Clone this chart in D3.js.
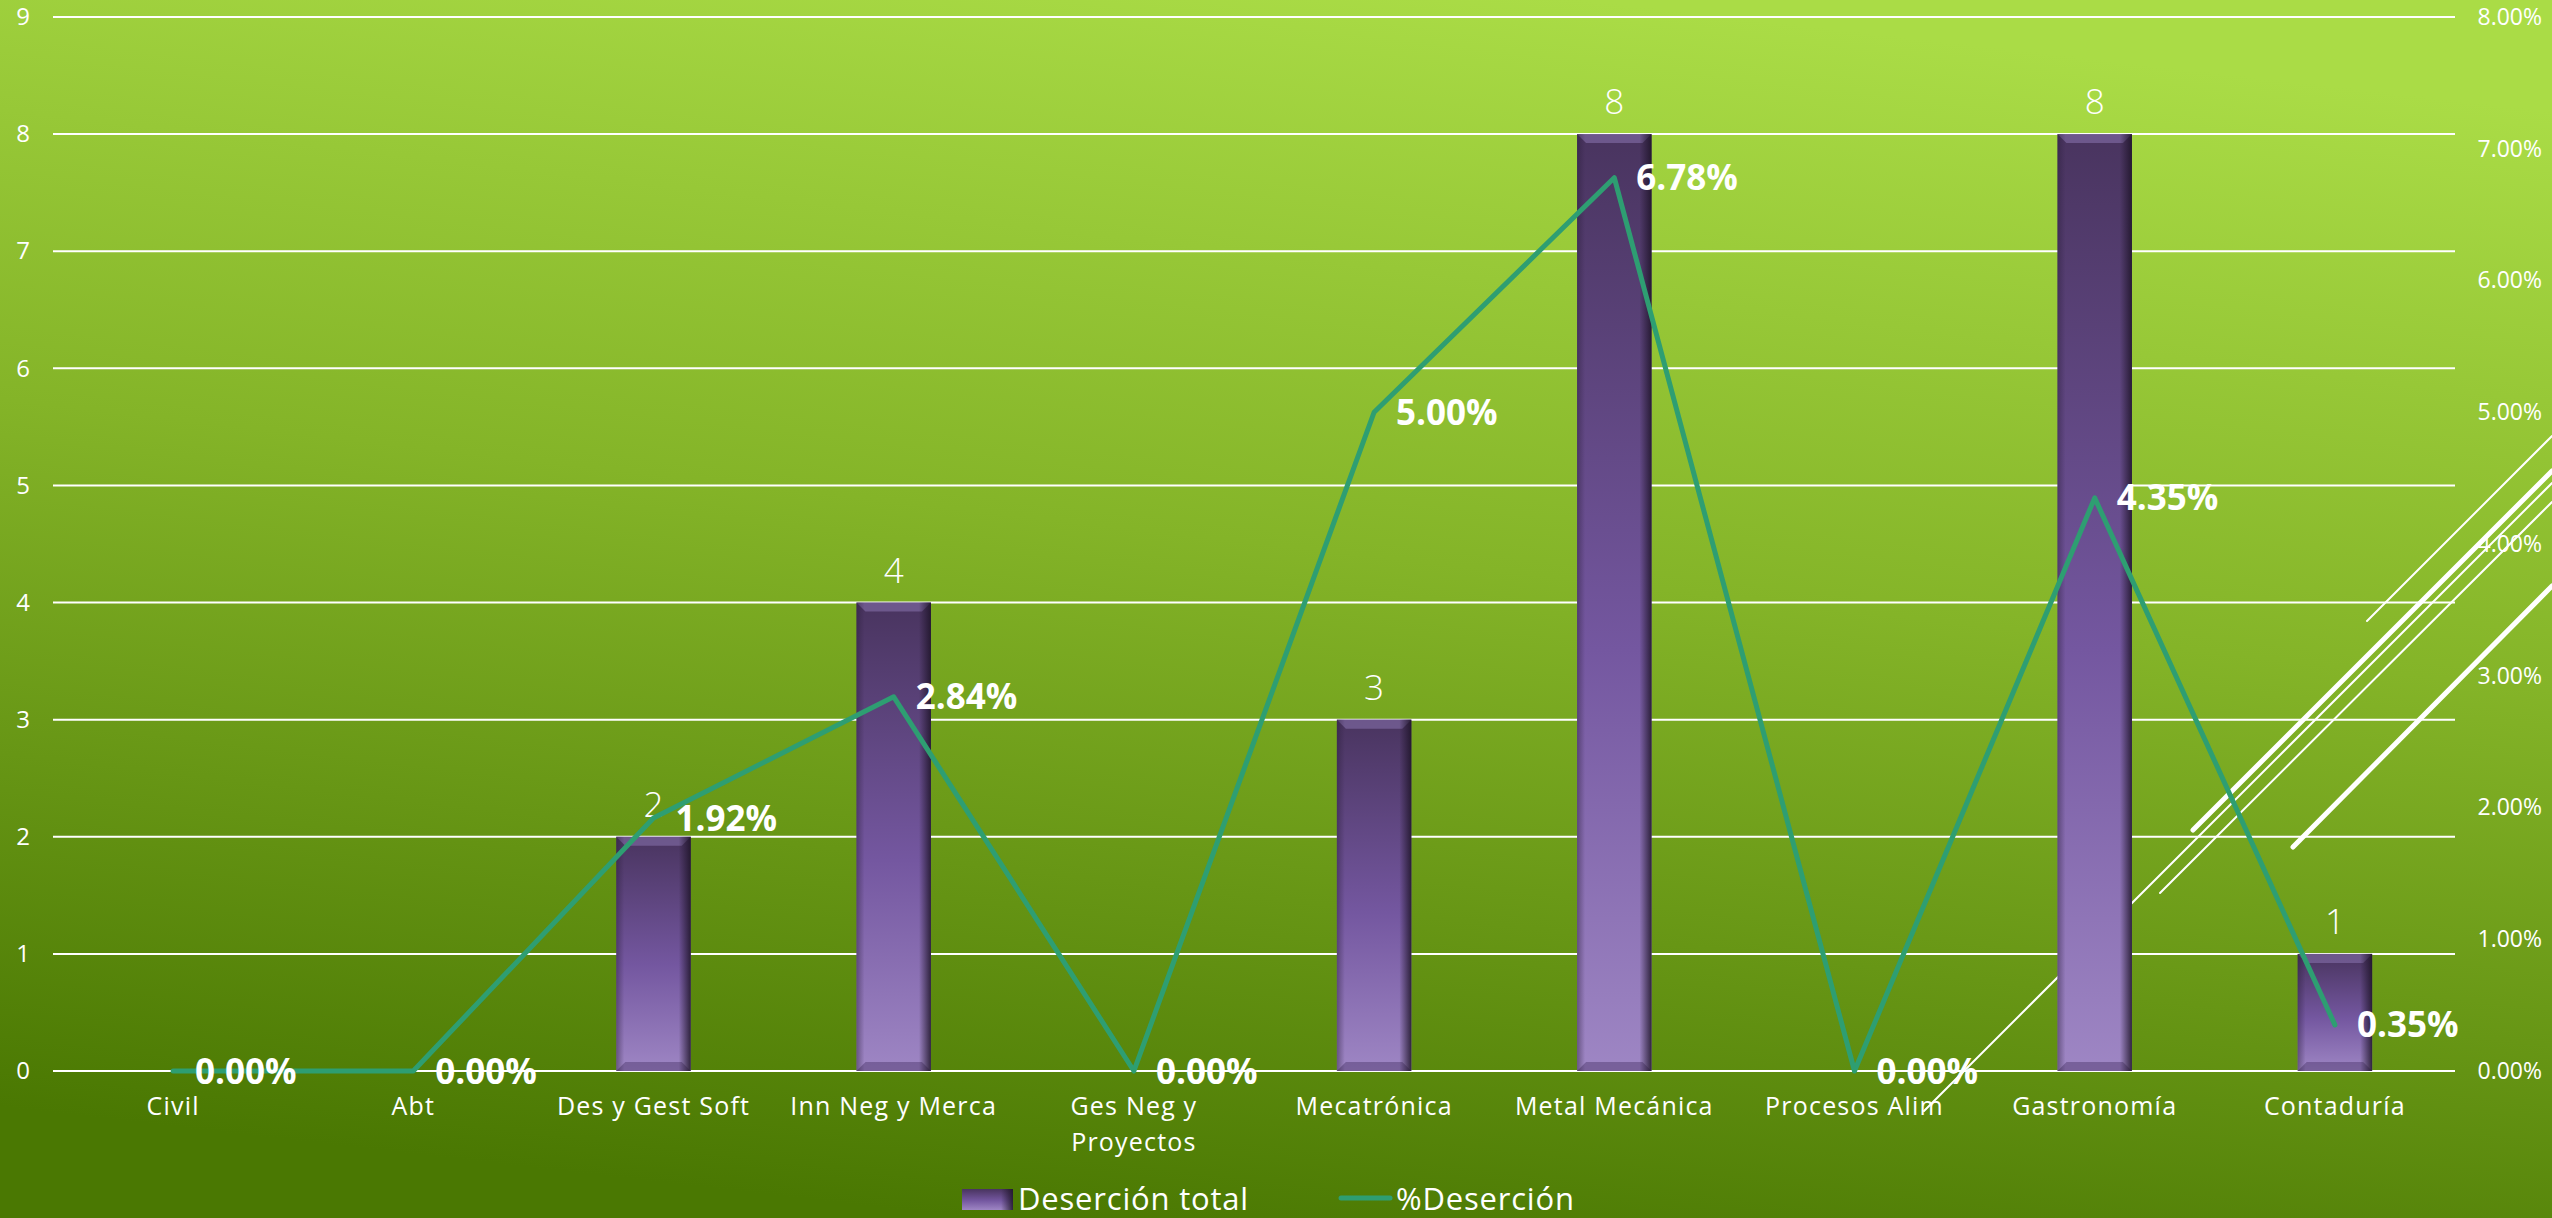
<!DOCTYPE html>
<html>
<head>
<meta charset="utf-8">
<script src="https://cdn.jsdelivr.net/npm/d3@7"></script>
<style>
  html, body { margin: 0; padding: 0; background: #6f9f18; overflow: hidden; }
  svg { display: block; }
  text { font-family: "Open Sans", "Noto Sans", sans-serif; fill: #ffffff; }
</style>
</head>
<body>
<svg id="chart" width="2552" height="1218"></svg>
<script>
// ---- data ----
const categories = ["Civil", "Abt", "Des y Gest Soft", "Inn Neg y Merca", "Ges Neg y Proyectos",
  "Mecatrónica", "Metal Mecánica", "Procesos Alim", "Gastronomía", "Contaduría"];
const desercionTotal = [0, 0, 2, 4, 0, 3, 8, 0, 8, 1];
const pctDesercion = [0.00, 0.00, 1.92, 2.84, 0.00, 5.00, 6.78, 0.00, 4.35, 0.35];
const leftTicks = [0, 1, 2, 3, 4, 5, 6, 7, 8, 9];
const rightTicks = [0, 1, 2, 3, 4, 5, 6, 7, 8];
const seriesNames = ["Deserción total", "%Deserción"];

// ---- layout ----
const W = 2552, H = 1218;
const plot = { left: 53, right: 2455, top: 17, bottom: 1071 };
const svg = d3.select("#chart");
const defs = svg.append("defs");

// background gradient
const bg = defs.append("linearGradient").attr("id", "bg")
  .attr("x1", "0.62").attr("y1", "0").attr("x2", "0.38").attr("y2", "1");
bg.append("stop").attr("offset", "0").attr("stop-color", "#aadc46");
bg.append("stop").attr("offset", "0.45").attr("stop-color", "#84b428");
bg.append("stop").attr("offset", "1").attr("stop-color", "#4a7802");
svg.append("rect").attr("width", W).attr("height", H).attr("fill", "url(#bg)");

// bar gradients
const bgBar = defs.append("linearGradient").attr("id", "barFill")
  .attr("x1", 0).attr("y1", 0).attr("x2", 0).attr("y2", 1);
bgBar.append("stop").attr("offset", "0").attr("stop-color", "#49345f");
bgBar.append("stop").attr("offset", "0.55").attr("stop-color", "#7457a0");
bgBar.append("stop").attr("offset", "1").attr("stop-color", "#9e86c4");
const edgeR = defs.append("linearGradient").attr("id", "edgeR")
  .attr("x1", 0).attr("y1", 0).attr("x2", 1).attr("y2", 0);
edgeR.append("stop").attr("offset", "0").attr("stop-color", "#1e1428").attr("stop-opacity", 0);
edgeR.append("stop").attr("offset", "1").attr("stop-color", "#1e1428").attr("stop-opacity", 0.85);
const edgeL = defs.append("linearGradient").attr("id", "edgeL")
  .attr("x1", 0).attr("y1", 0).attr("x2", 1).attr("y2", 0);
edgeL.append("stop").attr("offset", "0").attr("stop-color", "#2a1d3a").attr("stop-opacity", 0.45);
edgeL.append("stop").attr("offset", "1").attr("stop-color", "#2a1d3a").attr("stop-opacity", 0);

// scales
const x = d3.scaleBand().domain(categories).range([plot.left, plot.right]).padding(0);
const yL = d3.scaleLinear().domain([0, 9]).range([plot.bottom, plot.top]);
const yR = d3.scaleLinear().domain([0, 8]).range([plot.bottom, plot.top]);
const barW = x.bandwidth() * 0.31;
const cx = c => x(c) + x.bandwidth() / 2;

// gridlines
svg.append("g").selectAll("line").data(leftTicks).join("line")
  .attr("x1", plot.left).attr("x2", plot.right)
  .attr("y1", d => yL(d)).attr("y2", d => yL(d))
  .attr("stroke", "#ffffff").attr("stroke-width", 2);

// decorative diagonal lines (background ornament)
const deco = svg.append("g").attr("stroke", "#ffffff").attr("stroke-linecap", "round").attr("fill", "none");
[
  { x1: 1924, y1: 1111, x2: 2552, y2: 483, w: 2 },
  { x1: 2160, y1: 893, x2: 2552, y2: 502, w: 2 },
  { x1: 2367, y1: 621, x2: 2552, y2: 436, w: 2 },
  { x1: 2193, y1: 830, x2: 2552, y2: 471, w: 5 },
  { x1: 2293, y1: 847, x2: 2552, y2: 586, w: 5 }
].forEach(l => deco.append("line").attr("x1", l.x1).attr("y1", l.y1).attr("x2", l.x2).attr("y2", l.y2).attr("stroke-width", l.w));

// axes (tick labels only)
const axL = svg.append("g").attr("transform", `translate(${plot.left},0)`)
  .call(d3.axisLeft(yL).tickValues(leftTicks).tickSize(0).tickPadding(22).tickFormat(d3.format("d")));
axL.select(".domain").remove();
axL.selectAll("text").attr("font-size", 24).attr("fill", "#fff").attr("text-anchor", "middle")
  .attr("x", -30).style("font-family", "Open Sans");

const axR = svg.append("g").attr("transform", `translate(2542,0)`)
  .call(d3.axisRight(yR).tickValues(rightTicks).tickSize(0).tickPadding(0).tickFormat(d => d.toFixed(2) + "%"));
axR.select(".domain").remove();
axR.selectAll("text").attr("font-size", 23).attr("fill", "#fff").attr("text-anchor", "end")
  .attr("x", 0).style("font-family", "Open Sans");

// bars
const bars = svg.append("g").selectAll("g").data(categories.map((c, i) => ({ c, v: desercionTotal[i] })).filter(d => d.v > 0))
  .join("g");
bars.each(function (d) {
  const g = d3.select(this);
  const x0 = cx(d.c) - barW / 2, y0 = yL(d.v), h = yL(0) - yL(d.v), bv = 9;
  g.append("rect").attr("x", x0).attr("y", y0).attr("width", barW).attr("height", h).attr("fill", "url(#barFill)");
  g.append("polygon").attr("points", [[x0, y0], [x0 + barW, y0], [x0 + barW - bv, y0 + bv], [x0 + bv, y0 + bv]].join(" "))
    .attr("fill", "#8a74b0").attr("opacity", 0.55);
  g.append("polygon").attr("points", [[x0, y0 + h], [x0 + barW, y0 + h], [x0 + barW - bv, y0 + h - bv], [x0 + bv, y0 + h - bv]].join(" "))
    .attr("fill", "#4a3468").attr("opacity", 0.45);
  g.append("rect").attr("x", x0 + barW - 12).attr("y", y0).attr("width", 12).attr("height", h).attr("fill", "url(#edgeR)");
  g.append("rect").attr("x", x0).attr("y", y0).attr("width", 8).attr("height", h).attr("fill", "url(#edgeL)");
});

// bar value labels
svg.append("g").selectAll("text").data(categories.map((c, i) => ({ c, v: desercionTotal[i] })).filter(d => d.v > 0))
  .join("text")
  .attr("x", d => cx(d.c)).attr("y", d => yL(d.v) - 20)
  .attr("text-anchor", "middle").attr("font-size", 35).attr("font-weight", 300)
  .text(d => d.v);

// line series
const lineData = categories.map((c, i) => ({ c, v: pctDesercion[i] }));
svg.append("path").datum(lineData)
  .attr("d", d3.line().x(d => cx(d.c)).y(d => yR(d.v)))
  .attr("fill", "none").attr("stroke", "#2e9e72").attr("stroke-width", 5)
  .attr("stroke-linejoin", "round").attr("stroke-linecap", "round");

// line labels
svg.append("g").selectAll("text").data(lineData).join("text")
  .attr("x", d => cx(d.c) + 22).attr("y", d => yR(d.v)).attr("dy", "0.36em")
  .attr("font-size", 35).attr("font-weight", 700)
  .text(d => d.v.toFixed(2) + "%");

// category labels (wrapped if wider than band)
const catG = svg.append("g");
categories.forEach(c => {
  const t = catG.append("text").attr("x", cx(c)).attr("y", 1115).attr("text-anchor", "middle")
    .attr("font-size", 25).attr("letter-spacing", 1.2);
  const words = c.split(" ");
  let line = [];
  let ts = t.append("tspan").attr("x", cx(c)).attr("dy", 0);
  words.forEach(w => {
    line.push(w);
    ts.text(line.join(" "));
    if (ts.node().getComputedTextLength() > x.bandwidth() * 0.95 && line.length > 1) {
      line.pop();
      ts.text(line.join(" "));
      line = [w];
      ts = t.append("tspan").attr("x", cx(c)).attr("dy", 36).text(w);
    }
  });
});

// legend
const lg = svg.append("g");
lg.append("rect").attr("x", 962).attr("y", 1189).attr("width", 51).attr("height", 21).attr("fill", "url(#barFill)");
lg.append("rect").attr("x", 1001).attr("y", 1189).attr("width", 12).attr("height", 21).attr("fill", "url(#edgeR)");
lg.append("text").attr("x", 1018).attr("y", 1210).attr("font-size", 31).attr("letter-spacing", 0.8).text(seriesNames[0]);
lg.append("line").attr("x1", 1341).attr("x2", 1390).attr("y1", 1198).attr("y2", 1198)
  .attr("stroke", "#2e9e72").attr("stroke-width", 5).attr("stroke-linecap", "round");
lg.append("text").attr("x", 1396).attr("y", 1210).attr("font-size", 31).attr("letter-spacing", 0.8).text(seriesNames[1]);
</script>
</body>
</html>
